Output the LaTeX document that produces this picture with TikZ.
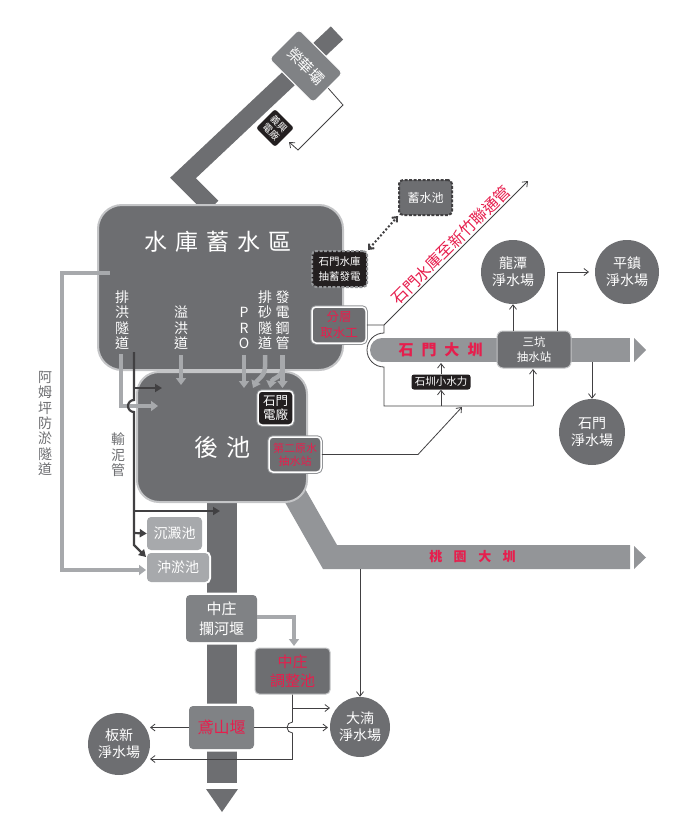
\documentclass[tikz,border=0pt]{standalone}
\usepackage{fontspec}
\setmainfont{Noto Sans CJK TC}
\usetikzlibrary{arrows.meta}
\definecolor{dg}{HTML}{6D6E71}
\definecolor{mg}{HTML}{808285}
\definecolor{lg}{HTML}{939598}
\definecolor{llg}{HTML}{A7A9AC}
\definecolor{bk}{HTML}{231F20}
\definecolor{ln}{HTML}{414042}
\definecolor{rd}{HTML}{E61E4D}
\definecolor{bd}{HTML}{C4C5C7}
\newcommand{\fs}[2]{\fontsize{#1pt}{#2pt}\selectfont}
\begin{document}
\begin{tikzpicture}[x=1pt,y=-1pt,
  bigbox/.style={draw=bd, line width=2pt, fill=dg, rounded corners=24pt, inner sep=0pt},
  rbox/.style={fill=dg, rounded corners=4pt, inner sep=0pt, align=center, text=white},
  wout/.style={preaction={draw=white, line width=5pt}},
  gout/.style={preaction={draw=lg, line width=3.5pt}},
  circ/.style={circle, fill=dg, inner sep=0pt, minimum size=#1, align=center, text=white, font=\fs{14}{17}},
  vtext/.style={inner sep=0pt, align=center, text=white, font=\fs{14}{15.5}},
  thinl/.style={draw=ln, line width=0.8pt},
  tarr/.style={-{Straight Barb[length=4.5pt,width=7pt]}},
  gline/.style={draw=llg, line width=4.5pt},
  garr/.style={-{Triangle[length=7pt,width=10pt]}},
  dline/.style={draw=ln, line width=2.2pt},
  darr/.style={-{Triangle[length=7pt,width=8pt]}}]
\useasboundingbox (0,0) rectangle (679,832);

% channels and river bands
\fill[lg] (278,490) -- (292,466) -- (337,545) -- (630,545) -- (630,569) -- (323,569) -- cycle;
\fill[lg] (634,546) -- (646,557.5) -- (634,569) -- cycle;
\fill[dg] (207,495) rectangle (237,783);
\fill[dg] (206,789) -- (238,789) -- (222,812) -- cycle;
\fill[lg] (382,338) rectangle (630,362);
\fill[lg] (382,350) circle[radius=12];
\fill[lg] (634,338) -- (646,350) -- (634,362) -- cycle;

% upstream pipe
\draw[dg, line width=18pt, line join=miter] (337,33) -- (183,178) -- (212,207);

% reservoir and after-pool
\node[bigbox, minimum width=245pt, minimum height=165pt] (res) at (220.5,287.5) {};
\node[text=white, font=\fs{23}{25}, inner sep=0pt] (restitle) at (218,242)
  {水\hspace{8pt}庫\hspace{8pt}蓄\hspace{8pt}水\hspace{8pt}區};
\node[bigbox, rounded corners=22pt, minimum width=170pt, minimum height=130pt] (hou) at (222,437) {};
\node[text=white, font=\fs{24}{26}, inner sep=0pt] (houtitle) at (222.5,447) {後\hspace{8pt}池};

% boxes
\node[rbox, fill=mg, draw=white, line width=1pt, rotate=-45, minimum width=62pt, minimum height=42pt, font=\fs{15}{17}] (rong) at (306,66) {榮華壩};
\node[rbox, fill=bk, draw=white, line width=1pt, rotate=-45, minimum size=28pt, rounded corners=3pt, font=\fs{9.5}{11}] (yixing) at (275,128) {義興\\電廠};
\node[rbox, fill=bk, draw=lg, line width=2pt, dash pattern=on 3pt off 1.5pt, minimum width=55pt, minimum height=36pt, font=\fs{10.5}{15}] (choux) at (339.5,269) {石門水庫\\抽蓄發電};
\node[rbox, draw=ln, line width=2pt, dash pattern=on 3pt off 1.5pt, minimum width=53pt, minimum height=35pt, font=\fs{12}{14}] (xushui) at (425.5,197.5) {蓄水池};
\node[rbox, gout, draw=white, line width=1.5pt, text=rd, minimum width=54pt, minimum height=36pt, font=\fs{12.5}{15.5}] (fenceng) at (339,325) {分層\\取水工};
\node[rbox, gout, fill=bk, draw=white, line width=1.5pt, minimum width=35pt, minimum height=34pt, font=\fs{12.5}{14}] (smpower) at (275.5,408) {石門\\電廠};
\node[rbox, gout, draw=white, line width=1.5pt, text=rd, minimum width=52pt, minimum height=35pt, font=\fs{11}{13}] (dier) at (295,454.5) {第二原水\\抽水站};
\node[rbox, draw=bd, line width=1pt, rounded corners=6pt, minimum width=74pt, minimum height=37pt, font=\fs{11.5}{15}] (sankeng) at (534,349.5) {三坑\\抽水站};
\node[rbox, fill=bk, rounded corners=2.5pt, minimum width=59pt, minimum height=15pt, font=\fs{10.5}{12}] (shiz) at (441,382) {石圳小水力};
\node[rbox, fill=llg, minimum width=55pt, minimum height=33pt, font=\fs{14}{16}] (chendian) at (174.5,533.5) {沉澱池};
\node[rbox, fill=llg, preaction={draw=white, line width=4pt}, minimum width=62pt, minimum height=29pt, font=\fs{14}{16}] (chongyu) at (178,567.5) {沖淤池};
\node[rbox, fill=mg, wout, minimum width=71pt, minimum height=47pt, font=\fs{15}{20}] (zzlan) at (221.5,618.5) {中庄\\攔河堰};
\node[rbox, draw=bd, line width=1pt, text=rd, minimum width=75pt, minimum height=46pt, font=\fs{15}{19}] (zztz) at (292.5,671) {中庄\\調整池};
\node[rbox, fill=mg, wout, text=rd, minimum width=65pt, minimum height=43pt, font=\fs{16}{18}] (yanshan) at (221.5,727.5) {鳶山堰};

% circles
\node[circ=64pt] (longtan) at (513,272) {龍潭\\淨水場};
\node[circ=64pt] (pingzhen) at (627,272) {平鎮\\淨水場};
\node[circ=66pt] (smwater) at (592,432) {石門\\淨水場};
\node[circ=60pt] (danan) at (360,727) {大湳\\淨水場};
\node[circ=62pt] (banxin) at (119,744) {板新\\淨水場};

% vertical labels
\node[vtext] (lb1) at (122,320) {排\\洪\\隧\\道};
\node[vtext] (lb2) at (181,328) {溢\\洪\\道};
\node[vtext] (lb3) at (244,328) {P\\R\\O};
\node[vtext] (lb4) at (265,320) {排\\砂\\隧\\道};
\node[vtext] (lb5) at (282.5,320) {發\\電\\鋼\\管};
\node[vtext, text=dg, font=\fs{14}{15.3}] (amu) at (45,423.5) {阿\\姆\\坪\\防\\淤\\隧\\道};
\node[vtext, text=dg] (shuni) at (118,455) {輸\\泥\\管};

% channel labels
\node[text=rd, font=\fs{15}{17}\bfseries, inner sep=0pt] (smdz) at (440.5,350) {石\hspace{8pt}門\hspace{8pt}大\hspace{8pt}圳};
\node[text=rd, font=\fs{13}{15}\bfseries, inner sep=0pt] (tydz) at (472.5,557) {桃\hspace{11.5pt}園\hspace{11.5pt}大\hspace{11.5pt}圳};
\node[text=rd, font=\fs{16}{18}, inner sep=0pt, rotate=45] (lian) at (451,245) {石門水庫至新竹聯通管};

% light gray flow arrows
\draw[gline, garr] (110,273) -- (62,273) -- (62,570) -- (146,570);
\draw[gline, garr] (121,354) -- (121,406) -- (158,406);
\draw[gline, garr] (181,355) -- (181,385);
\draw[gline, garr] (244,355) -- (244,388);
\draw[gline, garr] (265,355) -- (265,367) .. controls (265,376) and (257,380) .. (253,388);
\draw[gline, garr] (282.5,355) -- (282.5,388);
\draw[gline, garr] (282.5,368) .. controls (282.5,378) and (272,378) .. (270,388);
\draw[gline, garr, line join=miter] (257,617) -- (294,617) -- (294,646);

% sediment pipe
\draw[dline, darr] (134,352) -- (134,400) arc[start angle=270, end angle=90, radius=6] -- (134,545) -- (146,557);
\draw[dline, darr] (134,388) -- (162,388);
\draw[dline, darr] (134,511) -- (220,511);
\draw[dline, darr] (134,533) -- (chendian.west);

% thin connectors
\draw[thinl, tarr] (rong.east) -- (343,105) -- (298,150) -- (289,142);
\draw[ln, line width=2pt, dash pattern=on 2pt off 2pt, {Straight Barb[length=4pt,width=7pt]}-{Straight Barb[length=4pt,width=7pt]}] (choux.north east) -- (xushui.south west);
\coordinate (P) at (384,325);
\draw[thinl, tarr] (fenceng.east) -- (P) -- (528,181);
\draw[thinl] (P) -- (384,333) arc[start angle=270, end angle=90, radius=17] -- (384,406) -- (533,406);
\draw[thinl, tarr] (533,406) -- (533,369);
\draw[thinl, tarr] (441,406) -- (shiz.south);
\draw[thinl, tarr] (shiz.north) -- (441,363);
\draw[thinl, tarr] (dier.east) -- (418,454.5) -- (462,407);
\draw[thinl, tarr] (513,331) -- (longtan.south);
\draw[thinl, tarr] (557,331) -- (557,272) -- (589,272);
\draw[thinl, tarr] (592,362) -- (smwater.north);
\draw[thinl, tarr] (360,569) -- (danan.north);
\draw[thinl] (zztz.south) -- (292.5,722) arc[start angle=270, end angle=90, radius=5.5] -- (292.5,759);
\draw[thinl, tarr] (292.5,759) -- (150,759);
\draw[thinl, tarr] (292.5,708) -- (330,708);
\draw[thinl, tarr] (yanshan.east) -- (328,727.5);
\draw[thinl, tarr] (yanshan.west) -- (150,727.5);
\end{tikzpicture}
\end{document}
